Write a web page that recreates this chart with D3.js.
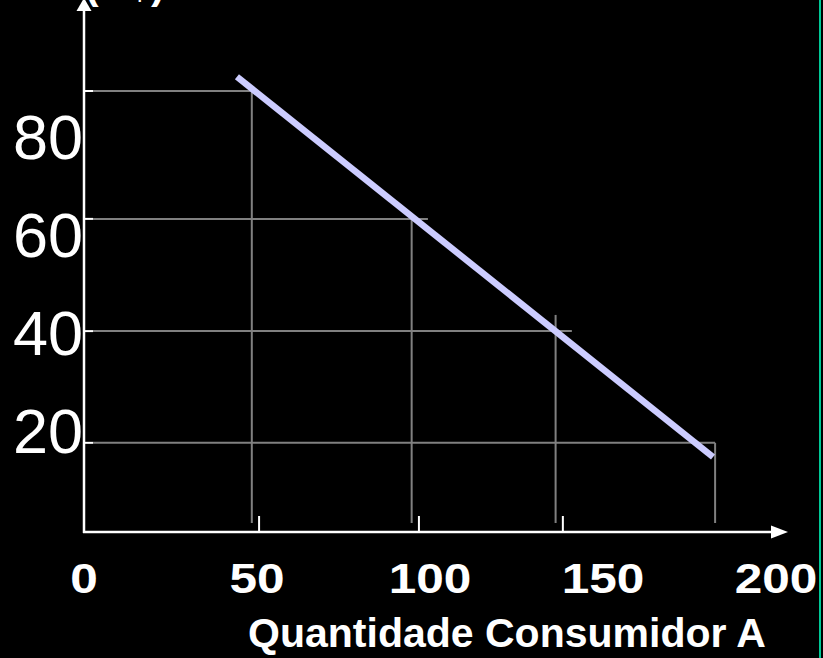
<!DOCTYPE html>
<html>
<head>
<meta charset="utf-8">
<script src="https://cdn.jsdelivr.net/npm/d3@7"></script>
<style>
  body { margin: 0; background: #000; }
  svg { display: block; }
  .y-label { font-family: "Liberation Sans", Arial, sans-serif; font-size: 63px; fill: #fff; }
  .x-label { font-family: "Liberation Sans", Arial, sans-serif; font-size: 42px; font-weight: bold; fill: #fff; }
  .axis-title { font-family: "Liberation Sans", Arial, sans-serif; font-size: 41px; font-weight: bold; fill: #fff; }
</style>
</head>
<body>
<div id="chart"></div>
<script>
// tick labels
const xTicks = [0, 50, 100, 150, 200];
const yTicks = [20, 40, 60, 80];
// small white tick marks on the x axis (as drawn, not exactly at the labels)
const xTickMarks = [50.6, 96.8, 138.4];

// guide points (quantity, price)
const guideQ = [48.5, 94.7, 136.3, 182.4];
const guideP = [90.0, 63.9, 41.0, 18.2];
// how far each horizontal / vertical guide runs
const guideHEndQ = [48.5, 99.4, 141.0, 182.4];
const guideVTopP = [90.0, 63.9, 44.3, 18.2];

// demand line end points
const lineQ = [44.2, 181.8];
const lineP = [92.9, 15.3];

class DemandChart{
  constructor(_parentElement){
    this.parentElement = _parentElement;
    this.initVis();
  }

  initVis(){
    let vis = this;
    vis.width = 823;
    vis.height = 658;

    vis.svg = d3.select(vis.parentElement).append("svg")
      .attr("width", vis.width)
      .attr("height", vis.height);

    vis.svg.append("rect")
      .attr("width", vis.width)
      .attr("height", vis.height)
      .attr("fill", "#000");

    vis.x = d3.scaleLinear().domain([0, 200]).range([84, 776]);
    vis.y = d3.scaleLinear().domain([0, 100]).range([532, 42]);

    vis.line = d3.line()
      .x(d=>vis.x(d.q))
      .y(d=>vis.y(d.p));

    vis.updateVis();
  }

  updateVis(){
    let vis = this;
    let x0 = vis.x(0), y0 = vis.y(0);

    let guides = guideQ.map((q,i)=>({q:q, p:guideP[i], hEnd:guideHEndQ[i], vTop:guideVTopP[i]}));

    // grey horizontal guides
    vis.svg.selectAll(".h-guide")
      .data(guides)
      .enter().append("line")
      .attr("class", "h-guide")
      .attr("x1", x0 + 9)
      .attr("x2", d=>vis.x(d.hEnd))
      .attr("y1", d=>vis.y(d.p))
      .attr("y2", d=>vis.y(d.p))
      .attr("stroke", "#808080")
      .attr("stroke-width", 2);

    // white stub where the guide meets the axis
    vis.svg.selectAll(".h-stub")
      .data(guides)
      .enter().append("line")
      .attr("class", "h-stub")
      .attr("x1", x0)
      .attr("x2", x0 + 9)
      .attr("y1", d=>vis.y(d.p))
      .attr("y2", d=>vis.y(d.p))
      .attr("stroke", "#fff")
      .attr("stroke-width", 2);

    // grey vertical guides
    vis.svg.selectAll(".v-guide")
      .data(guides)
      .enter().append("line")
      .attr("class", "v-guide")
      .attr("x1", d=>vis.x(d.q))
      .attr("x2", d=>vis.x(d.q))
      .attr("y1", d=>vis.y(d.vTop))
      .attr("y2", y0 - 9)
      .attr("stroke", "#808080")
      .attr("stroke-width", 2);

    // white tick marks on x axis
    vis.svg.selectAll(".x-mark")
      .data(xTickMarks)
      .enter().append("line")
      .attr("class", "x-mark")
      .attr("x1", d=>vis.x(d))
      .attr("x2", d=>vis.x(d))
      .attr("y1", y0 - 16)
      .attr("y2", y0)
      .attr("stroke", "#fff")
      .attr("stroke-width", 2);

    // axes with arrow heads
    vis.svg.append("line")
      .attr("x1", x0).attr("x2", x0)
      .attr("y1", y0 + 1).attr("y2", 10)
      .attr("stroke", "#fff").attr("stroke-width", 2.5);
    vis.svg.append("path")
      .attr("d", `M${x0},-2L${x0-7.5},11L${x0+7.5},11Z`)
      .attr("fill", "#fff");

    vis.svg.append("line")
      .attr("x1", x0 - 1).attr("x2", 772)
      .attr("y1", y0).attr("y2", y0)
      .attr("stroke", "#fff").attr("stroke-width", 2.5);
    vis.svg.append("path")
      .attr("d", `M788,${y0}L771,${y0-6.5}L771,${y0+6.5}Z`)
      .attr("fill", "#fff");

    // demand line
    vis.svg.append("path")
      .datum(lineQ.map((q,i)=>({q:q, p:lineP[i]})))
      .attr("d", vis.line)
      .attr("fill", "none")
      .attr("stroke", "#ccccff")
      .attr("stroke-width", 6.5);

    // y labels
    vis.svg.selectAll(".y-label")
      .data(yTicks)
      .enter().append("text")
      .attr("class", "y-label")
      .attr("x", x0 - 1)
      .attr("y", d=>vis.y(d))
      .attr("dy", "0.3em")
      .attr("text-anchor", "end")
      .text(d=>d);

    // x labels, the slide font is a bit wider than Liberation
    vis.svg.selectAll(".x-label")
      .data(xTicks)
      .enter().append("text")
      .attr("class", "x-label")
      .attr("transform", d=>`translate(${vis.x(d)},593) scale(1.18,1)`)
      .attr("text-anchor", "middle")
      .text(d=>d);

    vis.svg.append("text")
      .attr("class", "axis-title")
      .attr("x", 507)
      .attr("y", 647)
      .attr("text-anchor", "middle")
      .text("Quantidade Consumidor A");

    // y title sits mostly above the top edge
    vis.svg.append("text")
      .attr("class", "axis-title")
      .attr("x", 85)
      .attr("y", -1)
      .text("(R$)");

    // teal slide border on the right
    vis.svg.append("rect")
      .attr("x", 819)
      .attr("y", 0)
      .attr("width", 2)
      .attr("height", vis.height)
      .attr("fill", "#00c896");
  }
}

new DemandChart("#chart");
</script>
</body>
</html>
